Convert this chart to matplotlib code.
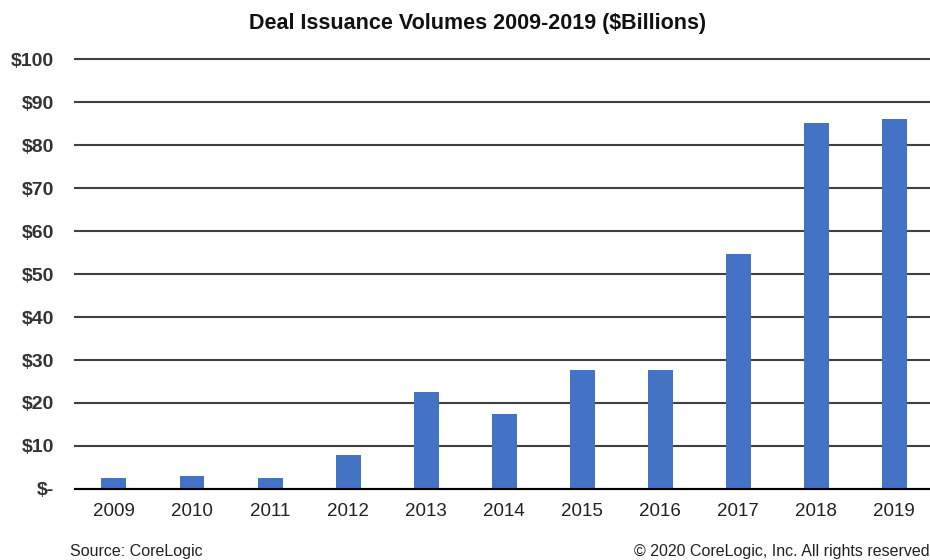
import matplotlib.pyplot as plt
import numpy as np

plt.rcParams['font.family'] = ['Liberation Sans', 'DejaVu Sans']

years = ["2009", "2010", "2011", "2012", "2013", "2014",
         "2015", "2016", "2017", "2018", "2019"]
volumes = [2.65, 2.95, 2.65, 7.8, 22.5, 17.5, 27.7, 27.7, 54.6, 85.1, 86.0]
yticks = [0, 10, 20, 30, 40, 50, 60, 70, 80, 90, 100]
ylabels = ["$-", "$10", "$20", "$30", "$40", "$50", "$60", "$70", "$80", "$90", "$100"]

fig = plt.figure(figsize=(9.3, 5.6), dpi=100)
ax = fig.add_axes([0.0806, 0.1268, 0.923, 0.7678])

x = np.arange(len(years))
ax.bar(x, volumes, width=0.32, color="#4472C4", zorder=3)

ax.set_xlim(-0.5, len(years) - 0.5)
ax.set_ylim(0, 100)
ax.set_yticks(yticks)
ax.set_yticklabels(ylabels, fontsize=14, fontweight="bold", color="#333333")
ax.set_xticks(x)
ax.set_xticklabels(years, fontsize=13.5, color="#222222")
ax.tick_params(axis="both", length=0)
ax.tick_params(axis="y", pad=15)
ax.tick_params(axis="x", pad=10)

ax.grid(axis="y", color="#404040", linewidth=1.5, zorder=0)
for gl in ax.get_ygridlines():
    gl.set_clip_on(False)
for s in ["top", "right", "left"]:
    ax.spines[s].set_visible(False)
ax.spines["bottom"].set_color("black")
ax.spines["bottom"].set_linewidth(1.5)
ax.spines["bottom"].set_zorder(4)

fig.text(0.513, 0.958, "Deal Issuance Volumes 2009-2019 ($Billions)",
         ha="center", va="center", fontsize=15.5, fontweight="bold", color="#111111")
fig.text(0.075, 0.015, "Source: CoreLogic", ha="left", va="center",
         fontsize=11.5, color="#222222")
fig.text(1.0, 0.015, "\u00a9 2020 CoreLogic, Inc. All rights reserved", ha="right",
         va="center", fontsize=11.5, color="#222222")

fig.savefig("out.png", dpi=100)
